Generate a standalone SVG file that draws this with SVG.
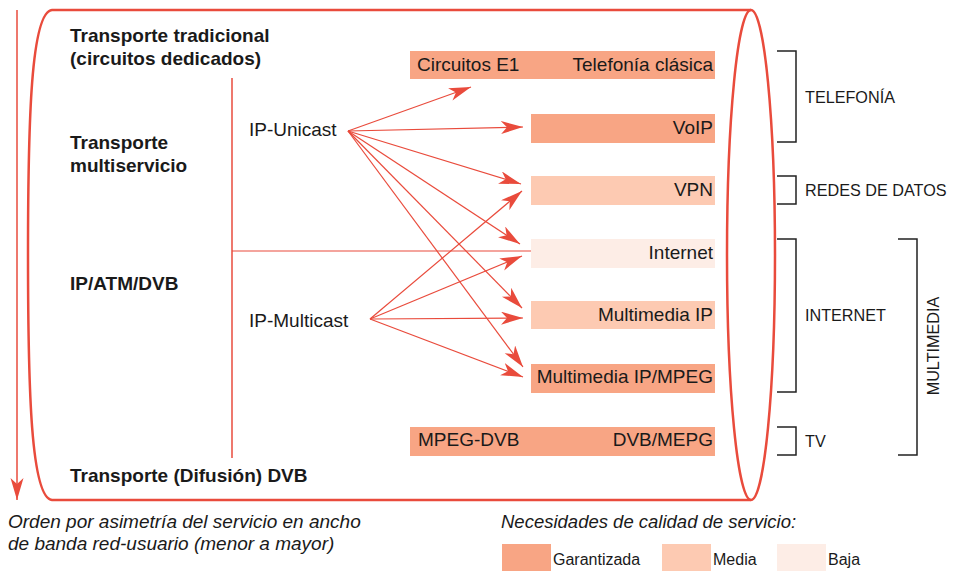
<svg xmlns="http://www.w3.org/2000/svg" width="957" height="571" viewBox="0 0 957 571">
<defs>
<style>
.t{font-family:"Liberation Sans",Arial,sans-serif;fill:#1a1a1a}
.b{font-size:19px;font-weight:bold}
.r{font-size:19px}
.bx{font-size:19px}
.lab{font-size:16.2px}
.it{font-size:18.5px;font-style:italic}
.cap{font-size:19px}
.lg{font-size:16px}
.g{fill:#f8a584}
.m{fill:#fdcab2}
.l{fill:#fdede6}
.red{stroke:#e94b3c;fill:none}
.ar{stroke:#e94b3c;stroke-width:1.2;fill:none;marker-end:url(#ah)}
.br{stroke:#222;stroke-width:1.5;fill:none}
</style>
<marker id="ah" markerUnits="userSpaceOnUse" markerWidth="24" markerHeight="14" refX="22" refY="6.5" orient="auto">
<path d="M0,0 L22,6.5 L0,13 L6,6.5 z" fill="#e94b3c"/>
</marker>
</defs>
<rect width="957" height="571" fill="#fff"/>

<g id="cylinder">
<path class="red" stroke-width="2.5" d="M751,10 H52 C31,12 28,120 28,255 C28,390 31,498 52,500 H751"/>
<ellipse class="red" stroke-width="2.5" cx="751" cy="255" rx="24" ry="245"/>
</g>

<g id="order-axis">
<line class="red" stroke-width="1.5" x1="17" y1="10" x2="17" y2="500" marker-end="url(#ah)"/>
</g>

<g id="left-labels">
<text class="t b" x="70" y="42">Transporte tradicional</text>
<text class="t b" x="70" y="65">(circuitos dedicados)</text>
<text class="t b" x="70" y="149">Transporte</text>
<text class="t b" x="70" y="172">multiservicio</text>
<text class="t b" x="70" y="290">IP/ATM/DVB</text>
<text class="t b" x="70" y="482">Transporte (Difusión) DVB</text>
</g>

<g id="ip-unicast"><text class="t r" x="249" y="136">IP-Unicast</text></g>
<g id="ip-multicast"><text class="t r" x="249" y="327">IP-Multicast</text></g>

<g id="box-telefonia-clasica">
<rect class="g" x="410" y="51" width="305" height="28"/>
<text class="t bx" x="417" y="71">Circuitos E1</text>
<text class="t bx" x="713" y="71" text-anchor="end">Telefonía clásica</text>
</g>
<g id="box-voip">
<rect class="g" x="531" y="114" width="184" height="29"/>
<text class="t bx" x="713" y="134" text-anchor="end">VoIP</text>
</g>
<g id="box-vpn">
<rect class="m" x="531" y="176" width="184" height="29"/>
<text class="t bx" x="713" y="196" text-anchor="end">VPN</text>
</g>
<g id="box-internet">
<rect class="l" x="531" y="239" width="184" height="29"/>
<text class="t bx" x="713" y="259" text-anchor="end">Internet</text>
</g>
<g id="box-multimedia-ip">
<rect class="m" x="531" y="301" width="184" height="28"/>
<text class="t bx" x="713" y="321" text-anchor="end">Multimedia IP</text>
</g>
<g id="box-multimedia-ip-mpeg">
<rect class="g" x="531" y="364" width="184" height="29"/>
<text class="t bx" x="713" y="383" text-anchor="end">Multimedia IP/MPEG</text>
</g>
<g id="box-dvb">
<rect class="g" x="410" y="427" width="305" height="29"/>
<text class="t bx" x="418" y="446">MPEG-DVB</text>
<text class="t bx" x="713" y="446" text-anchor="end">DVB/MEPG</text>
</g>

<g id="connectors">
<line class="red" stroke-width="1.5" x1="232" y1="78" x2="232" y2="458"/>
<line class="red" stroke-width="1.2" x1="232" y1="251" x2="531" y2="251"/>
<line class="ar" x1="348" y1="131" x2="471" y2="87"/>
<line class="ar" x1="348" y1="131" x2="523" y2="127"/>
<line class="ar" x1="348" y1="131" x2="521" y2="184"/>
<line class="ar" x1="348" y1="131" x2="520" y2="244"/>
<line class="ar" x1="348" y1="131" x2="522" y2="308"/>
<line class="ar" x1="348" y1="131" x2="523" y2="367"/>
<line class="ar" x1="370" y1="319" x2="522" y2="191"/>
<line class="ar" x1="370" y1="319" x2="522" y2="256"/>
<line class="ar" x1="370" y1="319" x2="523" y2="318"/>
<line class="ar" x1="370" y1="319" x2="523" y2="377"/>
</g>

<g id="bracket-telefonia">
<path class="br" d="M777,51 H796 V142 H777"/>
<text class="t lab" x="805" y="103">TELEFONÍA</text>
</g>
<g id="bracket-redes">
<path class="br" d="M777,176 H796 V204 H777"/>
<text class="t lab" x="805" y="196">REDES DE DATOS</text>
</g>
<g id="bracket-internet">
<path class="br" d="M777,239 H796 V392 H777"/>
<text class="t lab" x="805" y="321">INTERNET</text>
</g>
<g id="bracket-tv">
<path class="br" d="M777,427 H796 V455 H777"/>
<text class="t lab" x="805" y="447">TV</text>
</g>
<g id="bracket-multimedia">
<path class="br" d="M898,239 H917 V455 H898"/>
<text class="t lab" transform="translate(939,346) rotate(-90)" text-anchor="middle">MULTIMEDIA</text>
</g>

<g id="axis-caption">
<text class="t it cap" x="8" y="528">Orden por asimetría del servicio en ancho</text>
<text class="t it cap" x="8" y="550">de banda red-usuario (menor a mayor)</text>
</g>

<g id="legend">
<text class="t it" x="501" y="528">Necesidades de calidad de servicio:</text>
<rect class="g" x="502" y="544" width="49" height="27"/>
<text class="t lg" x="553" y="565">Garantizada</text>
<rect class="m" x="662" y="544" width="49" height="27"/>
<text class="t lg" x="713" y="565">Media</text>
<rect class="l" x="777" y="544" width="49" height="27"/>
<text class="t lg" x="828" y="565">Baja</text>
</g>
</svg>
